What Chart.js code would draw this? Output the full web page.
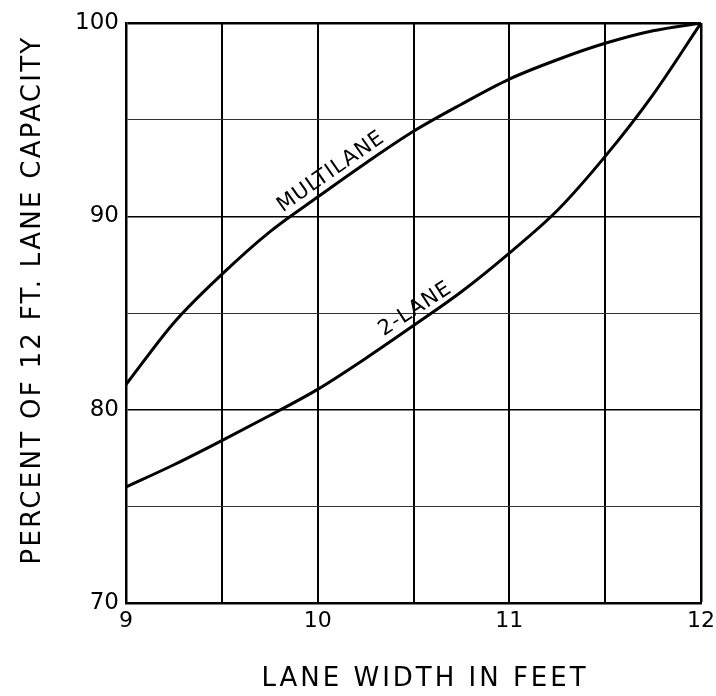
<!DOCTYPE html>
<html>
<head>
<meta charset="utf-8">
<script src="https://cdn.jsdelivr.net/npm/chart.js@4"></script>
<style>
  html, body { margin: 0; padding: 0; background: #fff; }
  #wrap { width: 716px; height: 696px; }
</style>
</head>
<body>
<div id="wrap"><canvas id="laneChart" width="716" height="696"></canvas></div>
<script>
// lane width (ft) and percent of 12 ft lane capacity
const laneWidths = [9, 9.25, 9.5, 9.75, 10, 10.25, 10.5, 10.75, 11, 11.25, 11.5, 11.75, 12];
const multiValues = [81.3, 84.5, 87.0, 89.2, 91.0, 92.75, 94.4, 95.8, 97.1, 98.1, 98.95, 99.6, 100];
const twoValues = [76.0, 77.15, 78.4, 79.7, 81.05, 82.65, 84.35, 86.1, 88.1, 90.3, 93.1, 96.3, 100];

const xLabels = [9, 10, 11, 12];
const yLabels = [70, 80, 90, 100];

// curve names written along the lines: [x, y, angle]
const curveNames = ['MULTILANE', '2-LANE'];
const namePositions = [[10.07, 92.3, -35], [10.51, 85.2, -33]];

const xTitle = 'LANE WIDTH IN FEET';
const yTitle = 'PERCENT OF 12 FT. LANE CAPACITY';

const FONT = "'DejaVu Sans', sans-serif";

function toPoints(xs, ys) {
    return xs.map((x, i) => ({ x: x, y: ys[i] }));
}

// 軸標題與曲線上的文字
const chartTexts = {
    id: 'chartTexts',
    afterDatasetsDraw(chart) {
        const ctx = chart.ctx;
        const xs = chart.scales.x;
        const ys = chart.scales.y;
        ctx.save();
        ctx.fillStyle = '#000';
        ctx.textAlign = 'center';
        ctx.textBaseline = 'middle';

        ctx.font = '21px ' + FONT;
        ctx.letterSpacing = '1px';
        curveNames.forEach((name, i) => {
            const p = namePositions[i];
            ctx.save();
            ctx.translate(xs.getPixelForValue(p[0]), ys.getPixelForValue(p[1]));
            ctx.rotate(p[2] * Math.PI / 180);
            ctx.fillText(name, 0, 0);
            ctx.restore();
        });

        ctx.font = '26px ' + FONT;
        ctx.letterSpacing = '3px';
        ctx.fillText(xTitle, 425, 679);

        ctx.save();
        ctx.translate(33, 300);
        ctx.rotate(-Math.PI / 2);
        ctx.letterSpacing = '2.3px';
        ctx.fillText(yTitle, 0, 0);
        ctx.restore();

        ctx.restore();
    }
};

const lineStyle = {
    borderColor: '#000',
    borderWidth: 3,
    pointRadius: 0,
    fill: false,
    cubicInterpolationMode: 'monotone'
};

new Chart(document.getElementById('laneChart'), {
    type: 'line',
    data: {
        datasets: [
            { label: curveNames[0], data: toPoints(laneWidths, multiValues), ...lineStyle },
            { label: curveNames[1], data: toPoints(laneWidths, twoValues), ...lineStyle }
        ]
    },
    options: {
        responsive: false,
        animation: false,
        layout: { padding: { top: 23, right: 15, left: 0, bottom: 0 } },
        plugins: { legend: { display: false }, tooltip: { enabled: false } },
        scales: {
            x: {
                type: 'linear',
                min: 9,
                max: 12,
                afterFit: s => { s.height = 93; s.paddingRight = 0; s.paddingLeft = 0; },
                border: { color: '#000', width: 2.5 },
                grid: {
                    color: '#000',
                    lineWidth: c => (c.tick && c.tick.value === 12) ? 2.5 : 2,
                    drawTicks: false
                },
                ticks: {
                    stepSize: 0.5,
                    padding: 5,
                    color: '#000',
                    font: { family: FONT, size: 22 },
                    callback: v => xLabels.includes(v) ? String(v) : ''
                }
            },
            y: {
                min: 70,
                max: 100,
                afterFit: s => { s.width = 126; },
                border: { color: '#000', width: 2.5 },
                grid: {
                    color: c => (c.tick && c.tick.value % 10 === 0) ? '#000' : '#333',
                    lineWidth: c => (c.tick && c.tick.value === 100) ? 2.5 : (c.tick && c.tick.value % 10 === 0 ? 1.5 : 1),
                    drawTicks: false
                },
                ticks: {
                    stepSize: 5,
                    padding: 7,
                    color: '#000',
                    font: { family: FONT, size: 23 },
                    callback: v => yLabels.includes(v) ? String(v) : ''
                }
            }
        }
    },
    plugins: [chartTexts]
});
</script>
</body>
</html>
